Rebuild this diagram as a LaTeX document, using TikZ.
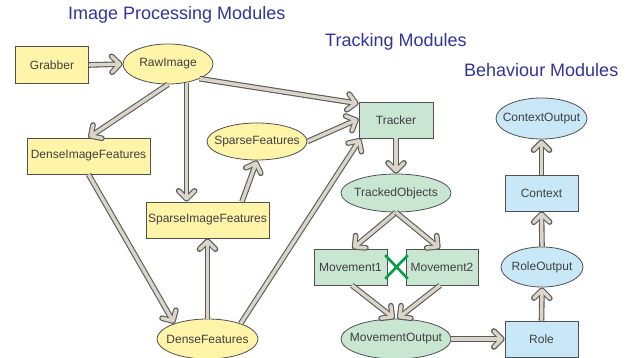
\documentclass[tikz,border=0pt]{standalone}
\usepackage{fontspec}
\setmainfont{Liberation Sans}
\usetikzlibrary{shapes.geometric,shapes.misc,arrows.meta,calc}
\definecolor{edgecol}{HTML}{505050}
\definecolor{txtcol}{HTML}{404040}
\definecolor{titlecol}{HTML}{333399}
\definecolor{yelfill}{HTML}{FFF4A8}
\definecolor{grnfill}{HTML}{C8E6D2}
\definecolor{blufill}{HTML}{C8E8F8}
\definecolor{arrowin}{HTML}{DAD5C8}
\definecolor{arrowout}{HTML}{5A5A5A}
\definecolor{xgreen}{HTML}{00A040}
\newcommand\ztext[1]{\makebox[0pt]{#1}}
\tikzset{
  modbox/.style={draw=edgecol, line width=0.8pt, rectangle, inner sep=0pt,
    minimum width=73pt, minimum height=36pt, text=txtcol,
    font=\fontsize{12}{14}\selectfont},
  modoval/.style={draw=edgecol, line width=0.8pt, ellipse, inner sep=0pt,
    text=txtcol, font=\fontsize{12}{14}\selectfont},
  yel/.style={fill=yelfill},
  grn/.style={fill=grnfill},
  blu/.style={fill=blufill},
  modtitle/.style={anchor=west, inner sep=0pt, text=titlecol,
    font=\fontsize{18}{21}\selectfont},
  flow/.style={draw=arrowin, line width=3.4pt, shorten >=1.1pt,
    -{Straight Barb[length=8pt,width=16pt,round]},
    preaction={draw=arrowout, line width=5.6pt, shorten >=0pt,
      -{Straight Barb[length=8pt,width=16pt,round]}}}
}
\begin{document}
\begin{tikzpicture}[x=1pt,y=-1pt]
\useasboundingbox (0,0) rectangle (631,358);
% titles
\node[modtitle] (t1) at (68,15) {Image Processing Modules};
\node[modtitle] (t2) at (325,41.5) {Tracking Modules};
\node[modtitle] (t3) at (464,70) {Behaviour Modules};
% image processing
\node[modbox,yel,minimum height=37pt] (grab) at (52,65) {Grabber};
\node[modoval,yel,minimum width=90pt,minimum height=40pt] (raw) at (168,64) {\ztext{RawImage}};
\node[modbox,yel,minimum width=123pt] (dif) at (88.5,156) {DenseImageFeatures};
\node[modoval,yel,minimum width=100pt,minimum height=37pt] (sf) at (257,141.5) {\ztext{SparseFeatures}};
\node[modbox,yel,minimum width=123pt] (sif) at (207.5,220) {SparseImageFeatures};
\node[modoval,yel,minimum width=101pt,minimum height=40pt] (df) at (207.5,339) {\ztext{DenseFeatures}};
% tracking
\node[modbox,grn,minimum width=74pt] (trk) at (396,120) {Tracker};
\node[modoval,grn,minimum width=110pt,minimum height=38pt] (tobj) at (396,193) {\ztext{TrackedObjects}};
\node[modbox,grn] (m1) at (350.5,267) {Movement1};
\node[modbox,grn,minimum width=72pt] (m2) at (442,267) {Movement2};
\node[modoval,grn,minimum width=110pt,minimum height=40pt] (mo) at (396,339) {\ztext{MovementOutput}};
% behaviour
\node[modbox,blu] (role) at (541.5,339) {Role};
\node[modoval,blu,minimum width=82pt,minimum height=40pt] (ro) at (542,267) {\ztext{RoleOutput}};
\node[modbox,blu] (ctx) at (541.5,193) {Context};
\node[modoval,blu,minimum width=91pt,minimum height=41pt] (co) at (541.5,118.5) {\ztext{ContextOutput}};
% connectors
\draw[flow] (grab.east) -- (raw.west);
\draw[flow] (raw.south) -- (dif.north);
\draw[flow] (raw.-45) -- (raw.-45 |- sif.north);
\draw[flow] (raw.-25) -- ([yshift=-2pt]trk.north west);
\draw[flow] (sf.east) -- ([yshift=1pt]trk.west);
\draw[flow] (df.25) -- ([xshift=2pt]trk.south west);
\draw[flow] (dif.south) -- (df.155);
\draw[flow] ([xshift=34.5pt]sif.north) -- (sf.south);
\draw[flow] (df.north) -- (sif.south);
\draw[flow] (trk.south) -- (tobj.north);
\draw[flow] (tobj.south) -- ([xshift=2pt]m1.north);
\draw[flow] (tobj.south) -- ([xshift=-2pt]m2.north);
\draw[flow] ([xshift=1.5pt]m1.south) -- ([xshift=-1.5pt]mo.north);
\draw[flow] ([xshift=-2pt]m2.south) -- ([xshift=1.5pt]mo.north);
\draw[flow] (mo.east) -- (role.west);
\draw[flow] (role.north) -- (ro.south);
\draw[flow] (ro.north) -- (ctx.south);
\draw[flow] (ctx.north) -- (co.south);
% cross between movements
\node[cross out, draw=xgreen, line width=2.6pt, minimum width=20pt,
  minimum height=21pt, inner sep=0pt] (xm) at ($(m1.east)!0.5!(m2.west)$) {};
\end{tikzpicture}
\end{document}
